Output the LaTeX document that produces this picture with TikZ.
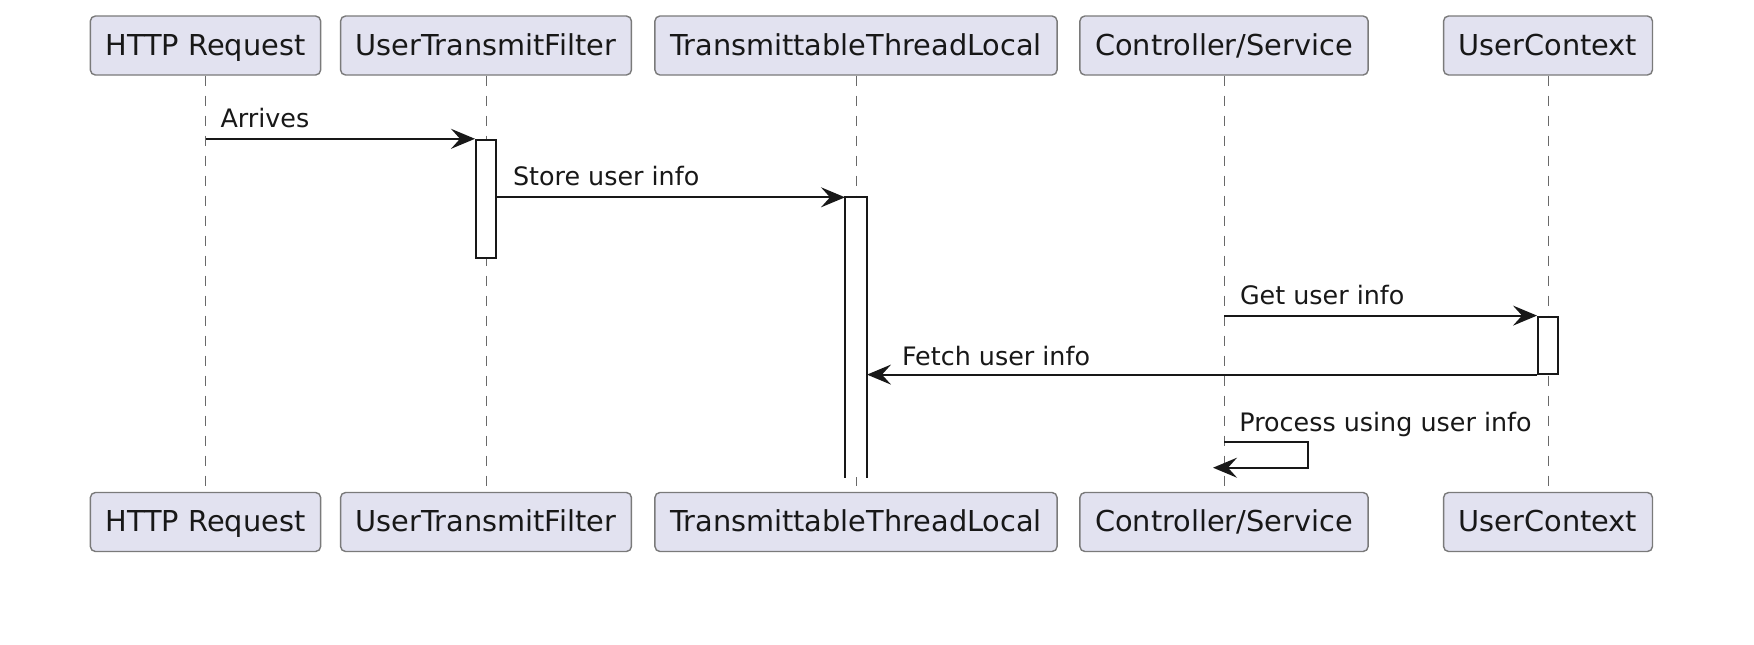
\documentclass[tikz,border=0pt]{standalone}
\usepackage{fontspec}
\setmainfont{DejaVu Sans}
\usetikzlibrary{arrows.meta}
\definecolor{boxfill}{HTML}{E2E2F0}
\definecolor{boxline}{HTML}{7A7A7A}
\definecolor{ink}{HTML}{181818}

\begin{document}
\begin{tikzpicture}[x=0.5pt,y=-0.5pt,
    participant/.style={draw=boxline,fill=boxfill,line width=0.7pt,rounded corners=2.5pt,
        minimum height=29.5pt,inner xsep=7.6pt,inner ysep=0pt,text height=13pt,text depth=3.3pt,
        text=ink,font=\fontsize{14.4}{17}\selectfont},
    lifeline/.style={draw=ink!65,line width=0.5pt,dash pattern=on 5pt off 5pt},
    act/.style={draw=ink,fill=white,line width=1pt,minimum width=10pt,inner sep=0pt},
    msg/.style={draw=ink,line width=1pt,-{Stealth[length=12pt,width=10pt,inset=4.5pt]}},
    msgtext/.style={anchor=base west,inner sep=0pt,text=ink,font=\fontsize{12.7}{15}\selectfont}]
    \useasboundingbox (0,0) rectangle (1754,644);

    \node[participant] (http) at (205.5,45.5) {HTTP Request};
    \node[participant] (filter) at (486,45.5) {UserTransmitFilter};
    \node[participant] (ttl) at (856,45.5) {TransmittableThreadLocal};
    \node[participant] (ctrl) at (1224,45.5) {Controller/Service};
    \node[participant] (ctx) at (1548,45.5) {UserContext};

    \node[participant] (http2) at (205.5,522) {HTTP Request};
    \node[participant] (filter2) at (486,522) {UserTransmitFilter};
    \node[participant] (ttl2) at (856,522) {TransmittableThreadLocal};
    \node[participant] (ctrl2) at (1224,522) {Controller/Service};
    \node[participant] (ctx2) at (1548,522) {UserContext};

    \foreach \p in {http,filter,ttl,ctrl,ctx}
        \draw[lifeline] (\p.south) -- (\p2.north);

    \node[act,minimum height=58.9pt] (filterAct) at (486,198.7) {};
    \node[act,draw=none,minimum height=139.1pt] (ttlAct) at (856,337.4) {};
    \draw[draw=ink,line width=1pt] (ttlAct.south west) |- (ttlAct.north east) -- (ttlAct.south east);
    \node[act,minimum height=28.5pt] (ctxAct) at (1548,345.1) {};

    \draw[msg] (http.south |- filterAct.north) -- (filterAct.north west)
        node[msgtext,pos=0,xshift=7pt,yshift=5.8pt] (arrivesLbl) {Arrives};
    \draw[msg] (filterAct.east |- ttlAct.north) -- (ttlAct.north west)
        node[msgtext,pos=0,xshift=7.5pt,yshift=5.8pt] (storeLbl) {Store user info};
    \draw[msg] (ctrl.south |- ctxAct.north) -- (ctxAct.north west)
        node[msgtext,pos=0,xshift=7.5pt,yshift=5.8pt] (getLbl) {Get user info};
    \draw[msg] (ctxAct.south west) -- (ttlAct.east |- ctxAct.south)
        node[msgtext,pos=1,xshift=17pt,yshift=4.5pt] (fetchLbl) {Fetch user info};

    \coordinate (selfStart) at (ctrl.south |- 0,441.7);
    \draw[msg] (selfStart) -- ++(84,0) -- ++(0,26) -- ++(-95,0);
    \node[msgtext,xshift=7.5pt,yshift=5pt] (processLbl) at (selfStart) {Process using user info};
\end{tikzpicture}
\end{document}
